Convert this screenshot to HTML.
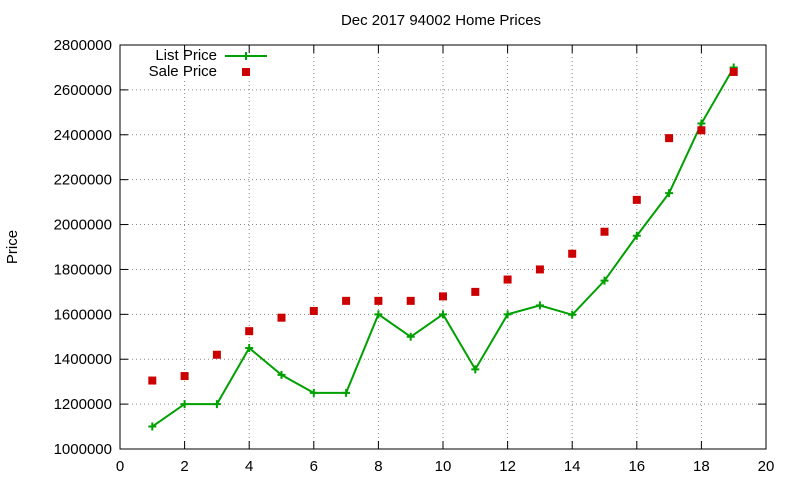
<!DOCTYPE html>
<html><head><meta charset="utf-8"><style>
html,body{margin:0;padding:0;background:#fff;}
svg{display:block;font-family:"Liberation Sans",sans-serif;}
</style></head><body>
<svg id="s" width="800" height="480" xmlns="http://www.w3.org/2000/svg"></svg>
<script>
const s=document.getElementById('s');
const X0=120,X1=766,Y0=449,Y1=45;
const fx=v=>X0+(X1-X0)*v/20, fy=v=>Y0-(Y0-Y1)*(v-1000000)/1800000;
let h='';
h+=`<rect x="0" y="0" width="800" height="480" fill="#fff"/>`;
for(let i=1;i<10;i++){const y=fy(1000000+i*200000);h+=`<line x1="${X0}" x2="${X1}" y1="${y}" y2="${y}" stroke="#888" stroke-dasharray="1,3"/>`;}
for(let i=1;i<10;i++){const x=fx(i*2);h+=`<line x1="${x}" x2="${x}" y1="${Y1}" y2="${Y0}" stroke="#888" stroke-dasharray="1,3"/>`;}
h+=`<rect x="122" y="46" width="150" height="34" fill="#fff"/>`;
for(let i=0;i<=9;i++){const v=1000000+i*200000,y=fy(v);
h+=`<line x1="${X0}" x2="${X0+8}" y1="${y}" y2="${y}" stroke="#000"/><line x1="${X1-8}" x2="${X1}" y1="${y}" y2="${y}" stroke="#000"/>`;
h+=`<text x="${X0-8}" y="${y+5}" text-anchor="end" font-size="15">${v}</text>`;}
for(let i=0;i<=10;i++){const x=fx(i*2);
h+=`<line x1="${x}" x2="${x}" y1="${Y0}" y2="${Y0-8}" stroke="#000"/><line x1="${x}" x2="${x}" y1="${Y1}" y2="${Y1+8}" stroke="#000"/>`;
h+=`<text x="${x}" y="${Y0+22}" text-anchor="middle" font-size="15">${i*2}</text>`;}
h+=`<rect x="${X0}" y="${Y1}" width="${X1-X0}" height="${Y0-Y1}" fill="none" stroke="#000"/>`;
h+=`<text x="441" y="25" text-anchor="middle" font-size="15">Dec 2017 94002 Home Prices</text>`;
h+=`<text transform="translate(17,247) rotate(-90)" text-anchor="middle" font-size="15">Price</text>`;
const L=[1100000,1200000,1200000,1450000,1330000,1250000,1250000,1600000,1500000,1600000,1355000,1600000,1640000,1598000,1750000,1950000,2140000,2450000,2700000];
const S=[1305000,1325000,1420000,1525000,1585000,1615000,1660000,1660000,1660000,1680000,1700000,1755000,1800000,1870000,1968000,2110000,2385000,2420000,2680000];
h+=`<polyline fill="none" stroke="#00a000" stroke-width="2" points="${L.map((v,i)=>fx(i+1)+','+fy(v)).join(' ')}"/>`;
L.forEach((v,i)=>{const x=fx(i+1),y=fy(v);h+=`<path d="M${x-4},${y}H${x+4}M${x},${y-4}V${y+4}" stroke="#00a000" stroke-width="2"/>`;});
S.forEach((v,i)=>{const x=fx(i+1),y=fy(v);h+=`<rect x="${x-4}" y="${y-4}" width="8" height="8" fill="#cc0000"/>`;});
h+=`<text x="217" y="60" text-anchor="end" font-size="15">List Price</text>`;
h+=`<line x1="225" x2="267" y1="56" y2="56" stroke="#00a000" stroke-width="2"/><path d="M242,56H250M246,52V60" stroke="#00a000" stroke-width="2"/>`;
h+=`<text x="217" y="76" text-anchor="end" font-size="15">Sale Price</text>`;
h+=`<rect x="242" y="68" width="8" height="8" fill="#cc0000"/>`;
s.innerHTML=h;
</script>
</body></html>
